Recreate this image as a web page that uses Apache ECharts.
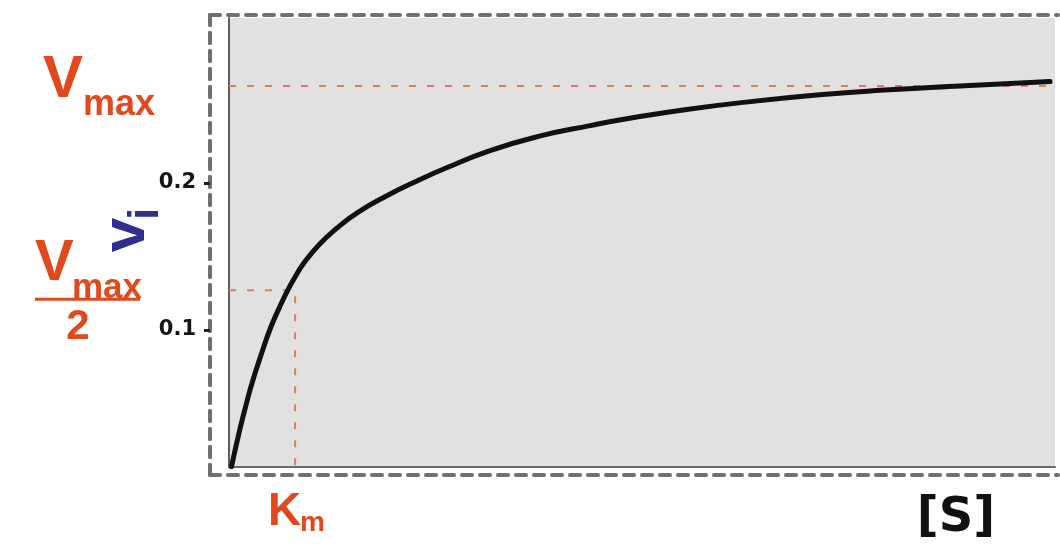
<!DOCTYPE html>
<html>
<head>
<meta charset="utf-8">
<title>Michaelis–Menten saturation curve</title>
<script src="https://cdn.jsdelivr.net/npm/echarts@6/dist/echarts.min.js"></script>
<style>
  html, body { margin: 0; padding: 0; background: #ffffff; }
  #chart { width: 1060px; height: 548px; }
</style>
</head>
<body>
<div id="chart"></div>
<script>
// Substrate concentration [S] along the curve (arbitrary units)
const substrate = [0.03, 0.13, 0.22, 0.29, 0.40, 0.50, 0.60, 0.71, 0.80, 0.90,
                   1.09, 1.30, 1.56, 1.90, 2.30, 2.62, 3.16, 3.77, 4.37, 4.85,
                   5.54, 6.34, 7.15, 7.88, 8.85, 9.94];
// Initial velocity v_i at each substrate concentration
const velocity  = [0.007, 0.032, 0.052, 0.066, 0.085, 0.101, 0.114, 0.127, 0.136, 0.145,
                   0.158, 0.169, 0.180, 0.191, 0.202, 0.210, 0.222, 0.232, 0.239, 0.244,
                   0.250, 0.2555, 0.260, 0.263, 0.266, 0.269];

// Reference levels marked on the plot
const vMax = 0.266;
const halfVMax = 0.127;
const kM = 0.80;

// Tick labels on the velocity axis
const yTickValues = [0.1, 0.2];

// Axis extents
const sRange = [0, 10];
const plotVRange = [0.0068, 0.3122];
const frameVRange = [0.0014, 0.3143];

const RED = '#e2481d';
const BLUE = '#2e2f8f';
const FRAME = '#707070';

const chart = echarts.init(document.getElementById('chart'), null, { renderer: 'canvas' });

const frameLine = { show: true, lineStyle: { color: FRAME, width: 4, type: [10, 8] } };
const refLine = { color: '#db7d68', width: 2, type: [7, 11] };

const curve = substrate.map((s, i) => [s, velocity[i]]);

chart.setOption({
  animation: false,
  backgroundColor: '#ffffff',
  grid: [
    { left: 229, right: 5, top: 18, bottom: 81, show: true,
      backgroundColor: '#e1e1e1', borderWidth: 0 },
    { left: 210, right: 2, top: 15, bottom: 73, show: false }
  ],
  xAxis: [
    { type: 'value', gridIndex: 0, min: sRange[0], max: sRange[1],
      axisLine: { show: true, onZero: false, lineStyle: { color: '#6a6a6a', width: 2 } },
      axisTick: { show: false }, axisLabel: { show: false }, splitLine: { show: false } },
    { type: 'value', gridIndex: 1, position: 'bottom', min: 0, max: 1,
      axisLine: frameLine, axisTick: { show: false }, axisLabel: { show: false }, splitLine: { show: false } },
    { type: 'value', gridIndex: 1, position: 'top', min: 0, max: 1,
      axisLine: frameLine, axisTick: { show: false }, axisLabel: { show: false }, splitLine: { show: false } }
  ],
  yAxis: [
    { type: 'value', gridIndex: 0, min: plotVRange[0], max: plotVRange[1],
      axisLine: { show: true, onZero: false, lineStyle: { color: '#5f5f5f', width: 2 } },
      axisTick: { show: false }, axisLabel: { show: false }, splitLine: { show: false } },
    { type: 'value', gridIndex: 1, position: 'left', min: frameVRange[0], max: frameVRange[1],
      axisLine: frameLine,
      axisTick: { show: true, length: 6, customValues: yTickValues,
                  lineStyle: { color: '#222', width: 3 } },
      axisLabel: { show: true, customValues: yTickValues, margin: 14,
                   formatter: v => v.toFixed(1),
                   color: '#151515', fontFamily: 'DejaVu Sans', fontWeight: 'bold', fontSize: 21 },
      splitLine: { show: false } },
    { type: 'value', gridIndex: 1, position: 'right', min: frameVRange[0], max: frameVRange[1],
      axisLine: frameLine, axisTick: { show: false }, axisLabel: { show: false }, splitLine: { show: false } }
  ],
  series: [
    { name: 'Vmax', type: 'line', xAxisIndex: 0, yAxisIndex: 0,
      data: [[sRange[0], vMax], [sRange[1], vMax]],
      symbol: 'none', lineStyle: refLine, z: 2 },
    { name: 'Km', type: 'line', xAxisIndex: 0, yAxisIndex: 0,
      data: [[sRange[0], halfVMax], [kM, halfVMax], [kM, plotVRange[0]]],
      symbol: 'none', lineStyle: refLine, z: 2 },
    { name: 'vi', type: 'line', xAxisIndex: 0, yAxisIndex: 0,
      data: curve, smooth: true, symbol: 'none',
      lineStyle: { color: '#111111', width: 5, cap: 'round' }, z: 3 }
  ]
});

// Annotations placed from the data values
const kx = chart.convertToPixel({ xAxisIndex: 0 }, kM);
const vMaxY = chart.convertToPixel({ yAxisIndex: 0 }, vMax);
const halfY = chart.convertToPixel({ yAxisIndex: 0 }, halfVMax);
const axisBottom = chart.convertToPixel({ yAxisIndex: 0 }, plotVRange[0]);

const sansBold = size => `bold ${size}px "Liberation Sans", Arial, sans-serif`;
const label = (text, x, y, size, fill, align) => ({
  type: 'text', x: x, y: y,
  style: { text: text, fill: fill, font: sansBold(size), align: align || 'left', verticalAlign: 'middle' }
});

chart.setOption({
  graphic: [
    // V_max
    label('V', 43, vMaxY - 5, 60, RED),
    label('max', 83, vMaxY + 19, 36, RED),
    // V_max / 2
    label('V', 35, halfY - 26, 58, RED),
    label('max', 72, halfY - 2, 35, RED),
    { type: 'line', shape: { x1: 35, y1: halfY + 9, x2: 140, y2: halfY + 9 },
      style: { stroke: RED, lineWidth: 3 } },
    label('2', 78, halfY + 37, 42, RED, 'center'),
    // v_i, written up the axis
    { type: 'text', x: 127, y: 235, rotation: Math.PI / 2,
      style: { text: 'v', fill: BLUE, font: sansBold(62), align: 'center', verticalAlign: 'middle' } },
    { type: 'text', x: 146, y: 214, rotation: Math.PI / 2,
      style: { text: 'i', fill: BLUE, font: sansBold(42), align: 'center', verticalAlign: 'middle' } },
    // K_m
    label('K', kx - 27, axisBottom + 45, 46, RED),
    label('m', kx + 5, axisBottom + 56, 28, RED),
    // [S]
    { type: 'text', x: 956, y: 519,
      style: { text: '[S]', fill: '#111111', font: 'bold 48px "DejaVu Sans", sans-serif',
               align: 'center', verticalAlign: 'middle' } }
  ]
});
</script>
</body>
</html>
